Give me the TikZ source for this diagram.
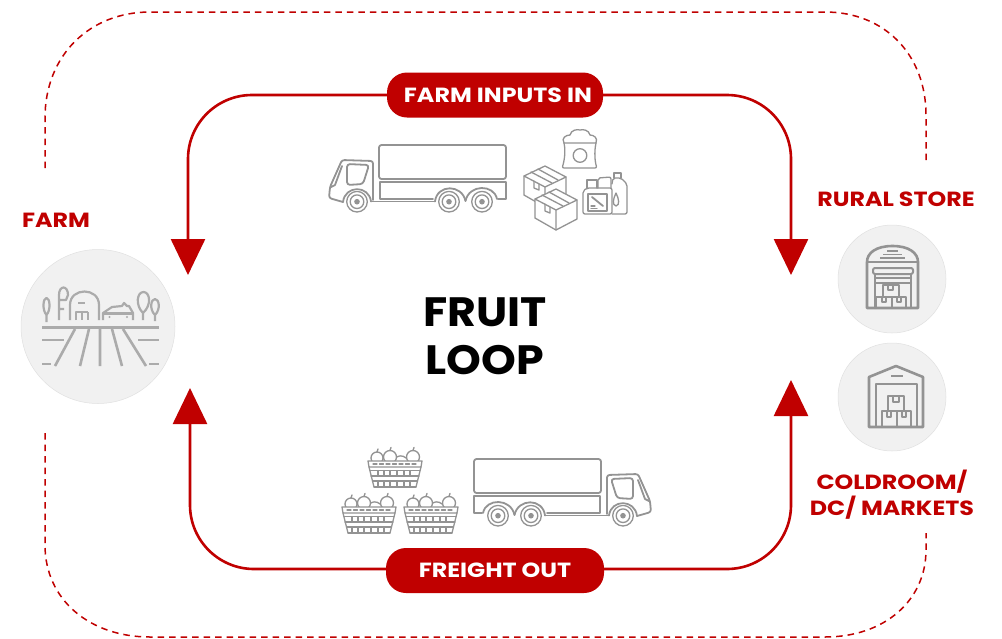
\documentclass[tikz,border=0pt]{standalone}
\usepackage{fontspec}
\setmainfont{Poppins}
\newfontfamily\widefont[FakeStretch=1.16]{Poppins}
\newfontfamily\titlefont[FakeStretch=1.08]{Poppins}
\usetikzlibrary{arrows.meta}
\definecolor{brandred}{HTML}{C00000}
\definecolor{icongray}{HTML}{939393}
\definecolor{fieldgray}{HTML}{ABABAB}
\definecolor{disc}{HTML}{F1F1F1}
\tikzset{
  loopline/.style={draw=brandred,line width=2.6pt,rounded corners=64pt,-{Triangle[width=34pt,length=36pt]}},
  outerdash/.style={draw=brandred,line width=1.5pt,dash pattern=on 6.5pt off 5pt},
  pill/.style={fill=brandred,rounded corners=20pt,text=white,font=\widefont\bfseries\fontsize{20.5}{24}\selectfont,minimum height=45pt,inner sep=0pt,align=center},
  redlabel/.style={text=brandred,font=\widefont\bfseries\fontsize{20.5}{26}\selectfont,inner sep=0pt,align=center},
  discnode/.style={circle,fill=disc,draw=black!12,line width=.5pt,inner sep=0pt,minimum size=#1},
  ic/.style={draw=icongray,line width=1.8pt,line join=round,line cap=round},
  icthin/.style={draw=icongray,line width=1.3pt,line join=round,line cap=round},
  ict/.style={draw=icongray,line width=2.6pt,line join=round},
  field/.style={draw=fieldgray,line width=2.6pt,line join=round},
  fieldthin/.style={draw=fieldgray,line width=2.2pt,line join=round},
}
\newcommand{\truckicon}{%
  \draw[ic,rounded corners=2.5pt] (379,179)--(379,145)--(506,145)--(506,179)--cycle;
  \draw[ic] (498,199)--(506,199)--(506,182)--(380,182)--(380,199)--(433,199);
  \draw[ic,rounded corners=2.5pt] (373,200)--(373,161)--(342,160)--(330,187)--(329,198)--(343,202);
  \draw[ic] (371,201.5)--(435,201.5);
  \draw[ic,rounded corners=3pt] (347,164)--(369,165)--(363,184)--(347,185)--cycle;
  \draw[ic] (342,166)--(335,185)--(331,187);
  \draw[ic] (343,202) .. controls (345,185) and (369,185) .. (371,201.5);
  \draw[ic] (435,201.5) .. controls (437,184) and (462,184) .. (465.5,201);
  \draw[ic] (465.5,201) .. controls (469,184) and (494,184) .. (497,199);
  \foreach \cx in {357,449,482}{
    \fill[white] (\cx,201.7) circle (11.5);
    \draw[icthin] (\cx,201.7) circle (10.3);
    \draw[icthin] (\cx,201.7) circle (6.8);
    \fill[icongray] (\cx,201.7) circle (2.8);
  }
}
\newcommand{\basketicon}[2]{%
  \begin{scope}[shift={(#1,#2)}]
    \draw[icthin] (27,-2) .. controls (29,-6) and (35,-6) .. (38,-3);
    \foreach \ax/\ar/\ay in {9/6/-3,22/6.5/-4,45/6.5/-4}{
      \draw[icthin,fill=white] (\ax,\ay) circle (\ar);
      \draw[icthin] (\ax,\ay-\ar)--(\ax+1,\ay-\ar-3);
    }
    \draw[icthin,fill=white] (0,0)--(54,0)--(53,6)--(1,6)--cycle;
    \draw[icthin,dash pattern=on 4pt off 2.5pt] (5,3)--(50,3);
    \draw[icthin] (2,9.5)--(52,9.5) (3,15)--(51,15) (4.5,20)--(49.5,20) (6,26)--(48,26);
    \draw[icthin] (1,6)--(6,26) (53,6)--(48,26);
    \foreach \bx in {10,16,22,29,36,42}{
      \draw[icthin] (\bx,9.5)--(\bx,15) (\bx,20)--(\bx,26);
    }
  \end{scope}%
}
\begin{document}
\begin{tikzpicture}[x=1pt,y=-1pt]
\useasboundingbox (0,0) rectangle (1002,638);
\fill[white] (0,0) rectangle (1002,638);

% outer dashed loop
\coordinate (dashA) at (45,168);
\coordinate (dashB) at (926,162);
\coordinate (dashC) at (45,433);
\coordinate (dashD) at (926,533);
\draw[outerdash] (dashA)--(45,118) .. controls (45,55) and (90,12) .. (150,12)
  --(825,12) .. controls (885,12) and (926,55) .. (926,115)--(dashB);
\draw[outerdash] (dashC)--(45,545) .. controls (45,600) and (90,637) .. (150,637)
  --(825,637) .. controls (885,637) and (926,600) .. (926,550)--(dashD);

% arrow tips
\coordinate (tipTL) at (188,275);
\coordinate (tipTR) at (791,275);
\coordinate (tipBL) at (190,388);
\coordinate (tipBR) at (791,380);

% pills
\node[pill,minimum width=216pt] (inputs) at (495,95) {\hspace{6pt}FARM INPUTS IN};
\node[pill,minimum width=218pt] (freight) at (495,570.5) {FREIGHT OUT};

\draw[loopline] (inputs.west)--(188,95)--(tipTL);
\draw[loopline] (inputs.east)--(791,95)--(tipTR);
\draw[loopline] ([yshift=1.5pt]freight.west)--(190,569)--(tipBL);
\draw[loopline] ([yshift=1.5pt]freight.east)--(791,569)--(tipBR);

% centre title
\node[font=\titlefont\bfseries\fontsize{41}{48}\selectfont,text=black,align=center,inner sep=0pt] (title) at (485,336) {FRUIT\\LOOP};

% labels
\node[redlabel] (farmlabel) at (56,220) {FARM};
\node[redlabel] (rurallabel) at (896,199) {RURAL STORE};
\node[redlabel] (coldlabel) at (892,495) {COLDROOM/\\DC/ MARKETS};

% discs
\node[discnode=154pt] (farm) at (98,326.5) {};
\node[discnode=108pt] (rural) at (892,279) {};
\node[discnode=108pt] (cold) at (892,397) {};

% trucks
\truckicon
\begin{scope}[shift={(980,314)},xscale=-1]
\truckicon
\end{scope}

% sack
\draw[icthin] (564,143) .. controls (561,138) and (566,135) .. (570,135)
  .. controls (571,130) and (577,129) .. (580,130)
  .. controls (583,129) and (589,130) .. (590,135)
  .. controls (594,135) and (598,138) .. (596,143) --cycle;
\draw[icthin,rounded corners=2pt] (564,143) .. controls (566,152) and (564,162) .. (562,168)
  --(597,168) .. controls (595,162) and (594,152) .. (596,143);
\draw[icthin] (580,155.5) circle (6.8);

% cartons
\foreach \ox/\oy in {0/0,11/23}{
  \begin{scope}[shift={(\ox,\oy)}]
    \draw[icthin,fill=white] (524,176)--(545,166)--(566,177)--(566,196)--(545,207)--(524,195)--cycle;
    \draw[icthin] (524,176)--(545,187)--(566,177) (545,187)--(545,207);
    \draw[icthin] (531,172)--(552,183) (538,169)--(558,180);
    \draw[icthin] (534,181)--(534,188)--(539,190)--(539,184);
  \end{scope}
}

% canisters
\draw[icthin,rounded corners=2pt] (583,214)--(583,191)--(587,188)--(612,188)--(612,214)--cycle;
\draw[icthin] (587,188)--(587,180)--(597,180)--(597,188);
\draw[icthin,rounded corners=2pt] (598,188)--(598,178)--(611,177)--(611,188);
\draw[icthin,rounded corners=2pt] (612,214)--(627,214)--(627,184)--(621,178)--(613,178)--(612,184);
\draw[icthin] (614,178)--(614,173)--(621,173)--(621,178);
\draw[icthin] (588,194)--(607,194)--(607,211)--(588,211)--cycle;
\draw[icthin,line width=1.8pt] (592,197)--(603,206);
\draw[icthin] (591,206)--(595,206) (591,208.5)--(597,208.5);
\draw[icthin] (616,193) .. controls (613,199) and (612,205) .. (616,206) .. controls (620,205) and (619,199) .. (616,193)--cycle;

% baskets
\basketicon{368}{461}
\basketicon{342}{507}
\basketicon{404}{507}

% farm icon
\draw[field] (42,327.5)--(159,327.5);
\draw[field] (75,329)--(55,366) (89,329)--(80,366) (100,329)--(100,366) (112,329)--(122,366) (123,329)--(146,366);
\draw[field] (42,340)--(64,340) (138,340)--(159,340);
\draw[field] (42,364)--(51,364) (149,364)--(159,364);
% trees
\draw[fieldthin] (46.5,322)--(46.5,315) (46.5,315) .. controls (42,310) and (43,298) .. (46.5,298) .. controls (50,298) and (51,310) .. (46.5,315);
\draw[fieldthin] (59,320)--(59,295) .. controls (59,285) and (68,285) .. (68,295)--(66,300)--(60,300) (59,309)--(64,309);
\draw[fieldthin] (143,320)--(143,313) (143,313) .. controls (135,305) and (137,292) .. (143.5,292) .. controls (150,292) and (152,305) .. (143,313);
\draw[fieldthin] (155,321)--(155,315) (155,315) .. controls (149,309) and (151,299) .. (155,299) .. controls (159,299) and (161,309) .. (155,315);
% barn
\draw[fieldthin] (70,320)--(70,305) .. controls (70,287) and (99,287) .. (99,305)--(99,320);
\draw[fieldthin] (76,320)--(76,312)--(88,312) (82,312)--(82,320) (88,312)--(88,320);
\draw[fieldthin] (78,303)--(85,303);
% house
\draw[fieldthin] (103,320)--(103,313)--(112,307)--(122,306)--(124,303)--(127,306)--(129,306)--(133,313)--(133,320);
\draw[fieldthin] (103,313.5)--(133,313.5);
\fill[fieldgray] (109.5,317) circle (1.1) (127,317) circle (1.1);

% rural store icon
\draw[ict] (867,308)--(867,262) .. controls (867,253) and (876,246) .. (892.5,246) .. controls (909,246) and (918,253) .. (918,262)--(918,308)--cycle;
\draw[ict,line width=1.8pt] (887,251)--(898,251) (883,254.5)--(902,254.5) (880,258)--(905,258);
\draw[ic,line width=2pt] (867,262)--(918,262);
\draw[ic,line width=2pt,rounded corners=2pt] (873,268)--(913,268)--(913,274)--(873,274)--cycle;
\draw[ic,line width=2pt] (875,278)--(911,278) (875,283)--(911,283) (875,274)--(875,308) (911,274)--(911,308);
\draw[ic,line width=2pt] (883,297)--(883,285)--(899,285)--(899,297);
\draw[ic,line width=2pt] (876,308)--(876,297)--(892,297)--(892,308) (892,297)--(906,297)--(906,308);
\draw[ic,line width=1.6pt] (888,285)--(888,290)--(893,290)--(893,285);
\draw[ic,line width=1.6pt] (882,297)--(882,302)--(886,302)--(886,297) (897,297)--(897,302)--(901,302)--(901,297);

% coldroom icon
\draw[ict] (869,427)--(869,377)--(896,366)--(923,377)--(923,427)--cycle;
\draw[ict,line width=1.8pt] (891,376)--(903,376);
\draw[ict] (876,427)--(876,384)--(917,384)--(917,427);
\draw[ic,line width=2pt] (888,411)--(888,396)--(904,396)--(904,411);
\draw[ic,line width=2pt] (882,427)--(882,411)--(897,411)--(897,427) (897,411)--(911,411)--(911,427);
\draw[ic,line width=1.6pt] (893,396)--(893,402)--(899,402)--(899,396);
\draw[ic,line width=1.6pt] (887,411)--(887,417)--(891,417)--(891,411) (902,411)--(902,417)--(906,417)--(906,411);
\end{tikzpicture}
\end{document}
